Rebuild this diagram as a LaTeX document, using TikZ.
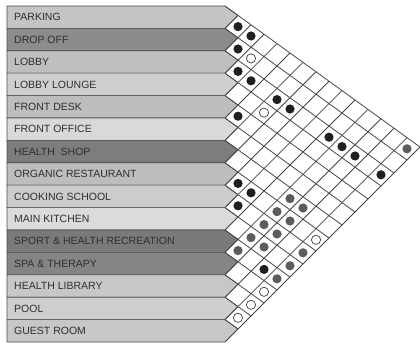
\documentclass[tikz,border=0pt]{standalone}
\usepackage{fontspec}
\setmainfont{Liberation Sans}
\begin{document}
\begin{tikzpicture}[x=1pt, y=-1pt,
  room/.style={draw=black!70, line width=0.6pt},
  roomtext/.style={anchor=west, inner sep=0pt, font=\fontsize{10.5}{12}\selectfont, text=black!82},
  latline/.style={draw=black!72, line width=0.8pt},
  spot/.style={circle, inner sep=0pt, minimum size=9.2pt, line width=0.7pt},
  spotblack/.style={spot, fill=black!88},
  spotgray/.style={spot, fill=black!64},
  spotwhite/.style={spot, draw=black!75, fill=white}]
\useasboundingbox (0,0) rectangle (420,347);
% room boxes
\foreach \k/\s/\t in {1/23/PARKING, 2/45/DROP OFF, 3/25/LOBBY, 4/19/LOBBY LOUNGE,
    5/26/FRONT DESK, 6/15/FRONT OFFICE, 7/51/HEALTH\ \ SHOP, 8/26/ORGANIC RESTAURANT,
    9/20/COOKING SCHOOL, 10/14/MAIN KITCHEN, 11/52/SPORT \& HEALTH RECREATION,
    12/48/SPA \& THERAPY, 13/22/HEALTH LIBRARY, 14/19/POOL, 15/22/GUEST ROOM} {
  \draw[room, fill=black!\s] (7,{6+22.4*(\k-1)}) -- (225,{6+22.4*(\k-1)})
    -- (238,{6+22.4*(\k-1)+9.4}) -- (225,{6+22.4*\k}) -- (7,{6+22.4*\k}) -- cycle;
  \node[roomtext] (r\k) at (14,{6+22.4*(\k-0.5)}) {\t};
}
% lattice
\foreach \k in {0,...,14}
  \draw[latline] (225,{6+22.4*\k}) -- ({225+13*(15-\k)},{147+13*\k});
\foreach \m in {1,...,15}
  \draw[latline] ({225+13*\m},{6+9.4*\m}) -- (225,{6+22.4*\m});
% links
\foreach \i/\j in {1/2,1/3,2/3,3/4,3/5,3/7,3/8,5/6,3/11,3/12,3/13,3/15,8/9,8/10,9/10,11/14}
  \node[spotblack] (b\i-\j) at ({225+13*(\j-\i)},{6+9.4*(\j-0.5)+13*(\i-0.5)}) {};
\foreach \i/\j in {1/15,7/12,7/13,8/12,9/12,8/13,10/12,9/13,11/12,10/13,9/15,10/15,11/15}
  \node[spotgray] (g\i-\j) at ({225+13*(\j-\i)},{6+9.4*(\j-0.5)+13*(\i-0.5)}) {};
\foreach \i/\j in {2/4,4/7,8/15,12/15,13/15,14/15}
  \node[spotwhite] (w\i-\j) at ({225+13*(\j-\i)},{6+9.4*(\j-0.5)+13*(\i-0.5)}) {};
\end{tikzpicture}
\end{document}
